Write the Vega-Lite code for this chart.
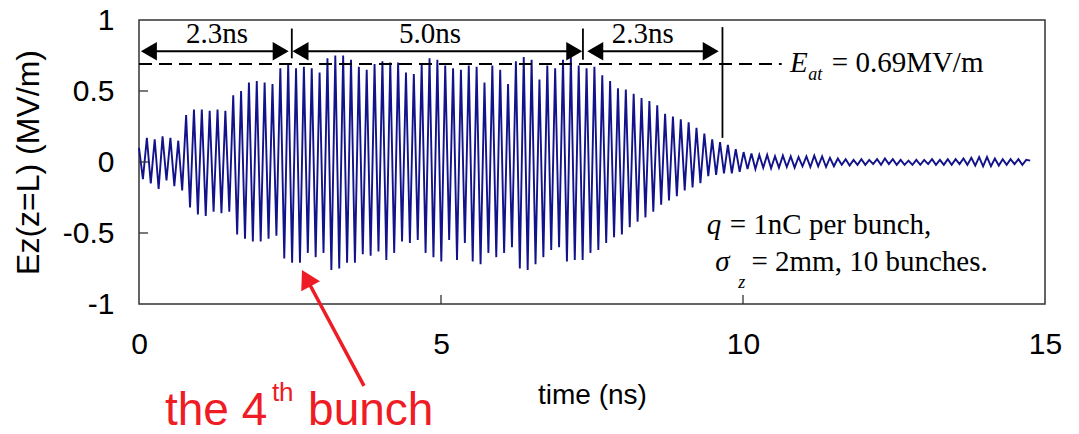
{
  "$schema": "https://vega.github.io/schema/vega-lite/v6.json",
  "width": 906,
  "height": 284,
  "autosize": {"type": "none"},
  "padding": {"left": 139, "top": 20, "right": 34, "bottom": 130},
  "background": "white",
  "config": {
    "view": {"stroke": "#333333", "strokeWidth": 1.5},
    "axis": {"domain": false, "ticks": false, "tickSize": 0, "grid": false, "labelFont": "Liberation Sans", "labelFontSize": 30, "labelColor": "#000000", "titleFont": "Liberation Sans", "titleFontSize": 28, "titleFontWeight": "normal", "titleColor": "#000000"}
  },
  "datasets": {
    "sig": [
      {"t":0,"e":0.1},{"t":0.065,"e":-0.12},{"t":0.13,"e":0.17},{"t":0.195,"e":-0.15},{"t":0.26,"e":0.16},{"t":0.325,"e":-0.19},{"t":0.39,"e":0.18},{"t":0.455,"e":-0.13},{"t":0.52,"e":0.17},{"t":0.585,"e":-0.17},{"t":0.65,"e":0.15},{"t":0.715,"e":-0.2},
      {"t":0.78,"e":0.33},{"t":0.845,"e":-0.32},{"t":0.91,"e":0.37},{"t":0.975,"e":-0.37},{"t":1.04,"e":0.37},{"t":1.105,"e":-0.38},{"t":1.17,"e":0.36},{"t":1.235,"e":-0.35},{"t":1.3,"e":0.37},{"t":1.365,"e":-0.36},{"t":1.43,"e":0.36},{"t":1.495,"e":-0.35},
      {"t":1.56,"e":0.47},{"t":1.625,"e":-0.51},{"t":1.69,"e":0.5},{"t":1.755,"e":-0.54},{"t":1.82,"e":0.56},{"t":1.885,"e":-0.56},{"t":1.95,"e":0.57},{"t":2.015,"e":-0.56},{"t":2.08,"e":0.56},{"t":2.145,"e":-0.54},{"t":2.21,"e":0.55},{"t":2.275,"e":-0.52},
      {"t":2.34,"e":0.66},{"t":2.405,"e":-0.68},{"t":2.47,"e":0.69},{"t":2.535,"e":-0.71},{"t":2.6,"e":0.66},{"t":2.665,"e":-0.71},{"t":2.73,"e":0.67},{"t":2.795,"e":-0.64},{"t":2.86,"e":0.66},{"t":2.925,"e":-0.67},{"t":2.99,"e":0.63},{"t":3.055,"e":-0.64},
      {"t":3.12,"e":0.73},{"t":3.185,"e":-0.76},{"t":3.25,"e":0.75},{"t":3.315,"e":-0.75},{"t":3.38,"e":0.75},{"t":3.445,"e":-0.71},{"t":3.51,"e":0.72},{"t":3.575,"e":-0.71},{"t":3.64,"e":0.67},{"t":3.705,"e":-0.65},{"t":3.77,"e":0.65},{"t":3.835,"e":-0.66},
      {"t":3.9,"e":0.69},{"t":3.965,"e":-0.63},{"t":4.03,"e":0.71},{"t":4.095,"e":-0.69},{"t":4.16,"e":0.7},{"t":4.225,"e":-0.64},{"t":4.29,"e":0.7},{"t":4.355,"e":-0.56},{"t":4.42,"e":0.63},{"t":4.485,"e":-0.57},{"t":4.55,"e":0.62},{"t":4.615,"e":-0.55},
      {"t":4.68,"e":0.69},{"t":4.745,"e":-0.64},{"t":4.81,"e":0.73},{"t":4.875,"e":-0.67},{"t":4.94,"e":0.72},{"t":5.005,"e":-0.7},{"t":5.07,"e":0.68},{"t":5.135,"e":-0.55},{"t":5.2,"e":0.66},{"t":5.265,"e":-0.69},{"t":5.33,"e":0.65},{"t":5.395,"e":-0.57},
      {"t":5.46,"e":0.68},{"t":5.525,"e":-0.7},{"t":5.59,"e":0.67},{"t":5.655,"e":-0.72},{"t":5.72,"e":0.56},{"t":5.785,"e":-0.64},{"t":5.85,"e":0.68},{"t":5.915,"e":-0.67},{"t":5.98,"e":0.65},{"t":6.045,"e":-0.64},{"t":6.11,"e":0.55},{"t":6.175,"e":-0.6},
      {"t":6.24,"e":0.71},{"t":6.305,"e":-0.75},{"t":6.37,"e":0.74},{"t":6.435,"e":-0.76},{"t":6.5,"e":0.72},{"t":6.565,"e":-0.72},{"t":6.63,"e":0.58},{"t":6.695,"e":-0.67},{"t":6.76,"e":0.68},{"t":6.825,"e":-0.62},{"t":6.89,"e":0.66},{"t":6.955,"e":-0.6},
      {"t":7.02,"e":0.72},{"t":7.085,"e":-0.7},{"t":7.15,"e":0.74},{"t":7.215,"e":-0.69},{"t":7.28,"e":0.68},{"t":7.345,"e":-0.69},{"t":7.41,"e":0.66},{"t":7.475,"e":-0.64},{"t":7.54,"e":0.67},{"t":7.605,"e":-0.62},{"t":7.67,"e":0.61},{"t":7.735,"e":-0.57},
      {"t":7.8,"e":0.57},{"t":7.865,"e":-0.53},{"t":7.93,"e":0.52},{"t":7.995,"e":-0.51},{"t":8.06,"e":0.51},{"t":8.125,"e":-0.46},{"t":8.19,"e":0.48},{"t":8.255,"e":-0.42},{"t":8.32,"e":0.45},{"t":8.385,"e":-0.39},{"t":8.45,"e":0.43},{"t":8.515,"e":-0.35},
      {"t":8.58,"e":0.4},{"t":8.645,"e":-0.3},{"t":8.71,"e":0.34},{"t":8.775,"e":-0.27},{"t":8.84,"e":0.32},{"t":8.905,"e":-0.24},{"t":8.97,"e":0.3},{"t":9.035,"e":-0.2},{"t":9.1,"e":0.28},{"t":9.165,"e":-0.18},{"t":9.23,"e":0.24},{"t":9.295,"e":-0.15},
      {"t":9.36,"e":0.2},{"t":9.425,"e":-0.1},{"t":9.49,"e":0.16},{"t":9.555,"e":-0.09},{"t":9.62,"e":0.14},{"t":9.685,"e":-0.08},{"t":9.75,"e":0.12},{"t":9.815,"e":-0.08},{"t":9.88,"e":0.09},{"t":9.945,"e":-0.07},{"t":10.01,"e":0.07},{"t":10.075,"e":-0.05},
      {"t":10.14,"e":0.06},{"t":10.205,"e":-0.05},{"t":10.27,"e":0.05},{"t":10.335,"e":-0.04},{"t":10.4,"e":0.05},{"t":10.465,"e":-0.045},{"t":10.53,"e":0.04},{"t":10.595,"e":-0.04},{"t":10.66,"e":0.045},{"t":10.725,"e":-0.035},{"t":10.79,"e":0.04},{"t":10.855,"e":-0.04},
      {"t":10.92,"e":0.035},{"t":10.985,"e":-0.03},{"t":11.05,"e":0.04},{"t":11.115,"e":-0.035},{"t":11.18,"e":0.045},{"t":11.245,"e":-0.03},{"t":11.31,"e":0.04},{"t":11.375,"e":-0.035},{"t":11.44,"e":0.03},{"t":11.505,"e":-0.03},{"t":11.57,"e":0.025},{"t":11.635,"e":-0.02},
      {"t":11.7,"e":0.02},{"t":11.765,"e":-0.025},{"t":11.83,"e":0.015},{"t":11.895,"e":-0.02},{"t":11.96,"e":0.02},{"t":12.025,"e":-0.02},{"t":12.09,"e":0.015},{"t":12.155,"e":-0.015},{"t":12.22,"e":0.02},{"t":12.285,"e":-0.02},{"t":12.35,"e":0.025},{"t":12.415,"e":-0.015},
      {"t":12.48,"e":0.02},{"t":12.545,"e":-0.02},{"t":12.61,"e":0.015},{"t":12.675,"e":-0.02},{"t":12.74,"e":0.01},{"t":12.805,"e":-0.02},{"t":12.87,"e":0.015},{"t":12.935,"e":-0.02},{"t":13,"e":0.015},{"t":13.065,"e":-0.015},{"t":13.13,"e":0.02},{"t":13.195,"e":-0.02},
      {"t":13.26,"e":0.015},{"t":13.325,"e":-0.02},{"t":13.39,"e":0.02},{"t":13.455,"e":-0.02},{"t":13.52,"e":0.02},{"t":13.585,"e":-0.015},{"t":13.65,"e":0.025},{"t":13.715,"e":-0.02},{"t":13.78,"e":0.03},{"t":13.845,"e":-0.025},{"t":13.91,"e":0.035},{"t":13.975,"e":-0.03},
      {"t":14.04,"e":0.035},{"t":14.105,"e":-0.03},{"t":14.17,"e":0.025},{"t":14.235,"e":-0.025},{"t":14.3,"e":0.02},{"t":14.365,"e":-0.02},{"t":14.43,"e":0.02},{"t":14.495,"e":-0.015},{"t":14.56,"e":0.02},{"t":14.625,"e":-0.02},{"t":14.69,"e":0.015},{"t":14.755,"e":0.01}
    ],
    "segs": [
      {"x":2.53,"x2":2.53,"y":0.73,"y2":0.94},
      {"x":7.35,"x2":7.35,"y":0.72,"y2":0.94},
      {"x":9.66,"x2":9.66,"y":0.17,"y2":0.95},
      {"x":0.1,"x2":2.4,"y":0.78,"y2":0.78},
      {"x":2.6,"x2":7.28,"y":0.78,"y2":0.78},
      {"x":7.5,"x2":9.53,"y":0.78,"y2":0.78}
    ],
    "ticks": [
      {"x":0,"x2":0.15,"y":0.5,"y2":0.5},
      {"x":0,"x2":0.15,"y":0,"y2":0},
      {"x":0,"x2":0.15,"y":-0.5,"y2":-0.5},
      {"x":5,"x2":5,"y":-1,"y2":-0.937},
      {"x":10,"x2":10,"y":-1,"y2":-0.937}
    ],
    "headsL": [{"x":0.164,"y":0.78},{"x":2.674,"y":0.78},{"x":7.554,"y":0.78}],
    "headsR": [{"x":2.346,"y":0.78},{"x":7.206,"y":0.78},{"x":9.466,"y":0.78}],
    "durs": [{"x":1.29,"y":0.836,"label":"2.3ns"},{"x":4.82,"y":0.836,"label":"5.0ns"},{"x":8.34,"y":0.836,"label":"2.3ns"}],
    "serifReg": [{"x":11.47,"y":0.636,"label":"= 0.69MV/m"},{"x":9.78,"y":-0.505,"label":"= 1nC per bunch,"},{"x":10.14,"y":-0.765,"label":"= 2mm, 10 bunches."}],
    "serifIt": [{"x":10.78,"y":0.636,"label":"E"},{"x":9.4,"y":-0.505,"label":"q"},{"x":9.54,"y":-0.765,"label":"σ"}],
    "serifSub": [{"x":11.08,"y":0.577,"label":"at"},{"x":9.92,"y":-0.885,"label":"z"}],
    "redLine": [{"x":2.76,"x2":3.725,"y":-0.81,"y2":-1.577}],
    "redHead": [{"x":2.77,"y":-0.818}],
    "redBig": [{"x":0.43,"y":-1.85,"label":"the 4"},{"x":2.8,"y":-1.85,"label":"bunch"}],
    "redSup": [{"x":2.2,"y":-1.68,"label":"th"}]
  },
  "layer": [
    {
      "data": {"name": "sig"},
      "mark": {"type": "line", "color": "#12128a", "strokeWidth": 1.9},
      "encoding": {
        "x": {"field": "t", "type": "quantitative", "scale": {"domain": [0, 15], "nice": false, "zero": false},
              "axis": {"values": [0, 5, 10, 15], "title": "time (ns)", "labelExpr": "'' + datum.value", "labelPadding": 25, "titlePadding": 22, "labelFlush": false, "labelOverlap": false}},
        "y": {"field": "e", "type": "quantitative", "scale": {"domain": [-1, 1], "nice": false, "zero": false},
              "axis": {"values": [-1, -0.5, 0, 0.5, 1], "title": "Ez(z=L) (MV/m)", "titleFontSize": 32, "labelExpr": "'' + datum.value", "labelPadding": 25, "titlePadding": 17, "labelFlush": false, "labelOverlap": false}}
      }
    },
    {
      "data": {"values": [{"x": 0, "x2": 10.64, "y": 0.69}]},
      "mark": {"type": "rule", "color": "#000000", "strokeWidth": 2, "strokeDash": [13, 7]},
      "encoding": {
        "x": {"field": "x", "type": "quantitative"},
        "x2": {"field": "x2"},
        "y": {"field": "y", "type": "quantitative"}
      }
    },
    {
      "data": {"name": "segs"},
      "mark": {"type": "rule", "color": "#000000", "strokeWidth": 1.8},
      "encoding": {
        "x": {"field": "x", "type": "quantitative"},
        "x2": {"field": "x2"},
        "y": {"field": "y", "type": "quantitative"},
        "y2": {"field": "y2"}
      }
    },
    {
      "data": {"name": "ticks"},
      "mark": {"type": "rule", "color": "#333333", "strokeWidth": 1.3},
      "encoding": {
        "x": {"field": "x", "type": "quantitative"},
        "x2": {"field": "x2"},
        "y": {"field": "y", "type": "quantitative"},
        "y2": {"field": "y2"}
      }
    },
    {
      "data": {"name": "headsL"},
      "mark": {"type": "point", "shape": "triangle-left", "filled": true, "color": "#000000", "size": 340, "opacity": 1},
      "encoding": {
        "x": {"field": "x", "type": "quantitative"},
        "y": {"field": "y", "type": "quantitative"}
      }
    },
    {
      "data": {"name": "headsR"},
      "mark": {"type": "point", "shape": "triangle-right", "filled": true, "color": "#000000", "size": 340, "opacity": 1},
      "encoding": {
        "x": {"field": "x", "type": "quantitative"},
        "y": {"field": "y", "type": "quantitative"}
      }
    },
    {
      "data": {"name": "durs"},
      "mark": {"type": "text", "font": "Liberation Serif", "fontSize": 29, "color": "#000000", "align": "center", "baseline": "alphabetic"},
      "encoding": {
        "x": {"field": "x", "type": "quantitative"},
        "y": {"field": "y", "type": "quantitative"},
        "text": {"field": "label"}
      }
    },
    {
      "data": {"name": "serifReg"},
      "mark": {"type": "text", "font": "Liberation Serif", "fontSize": 29, "color": "#000000", "align": "left", "baseline": "alphabetic"},
      "encoding": {
        "x": {"field": "x", "type": "quantitative"},
        "y": {"field": "y", "type": "quantitative"},
        "text": {"field": "label"}
      }
    },
    {
      "data": {"name": "serifIt"},
      "mark": {"type": "text", "font": "Liberation Serif", "fontSize": 29, "fontStyle": "italic", "color": "#000000", "align": "left", "baseline": "alphabetic"},
      "encoding": {
        "x": {"field": "x", "type": "quantitative"},
        "y": {"field": "y", "type": "quantitative"},
        "text": {"field": "label"}
      }
    },
    {
      "data": {"name": "serifSub"},
      "mark": {"type": "text", "font": "Liberation Serif", "fontSize": 18, "fontStyle": "italic", "color": "#000000", "align": "left", "baseline": "alphabetic"},
      "encoding": {
        "x": {"field": "x", "type": "quantitative"},
        "y": {"field": "y", "type": "quantitative"},
        "text": {"field": "label"}
      }
    },
    {
      "data": {"name": "redLine"},
      "mark": {"type": "rule", "color": "#ee1c24", "strokeWidth": 3.5},
      "encoding": {
        "x": {"field": "x", "type": "quantitative"},
        "x2": {"field": "x2"},
        "y": {"field": "y", "type": "quantitative"},
        "y2": {"field": "y2"}
      }
    },
    {
      "data": {"name": "redHead"},
      "mark": {"type": "point", "shape": "triangle-up", "angle": 332, "filled": true, "color": "#ee1c24", "size": 450, "opacity": 1},
      "encoding": {
        "x": {"field": "x", "type": "quantitative"},
        "y": {"field": "y", "type": "quantitative"}
      }
    },
    {
      "data": {"name": "redBig"},
      "mark": {"type": "text", "font": "Liberation Sans", "fontSize": 46, "color": "#ee1c24", "align": "left", "baseline": "alphabetic"},
      "encoding": {
        "x": {"field": "x", "type": "quantitative"},
        "y": {"field": "y", "type": "quantitative"},
        "text": {"field": "label"}
      }
    },
    {
      "data": {"name": "redSup"},
      "mark": {"type": "text", "font": "Liberation Sans", "fontSize": 26, "color": "#ee1c24", "align": "left", "baseline": "alphabetic"},
      "encoding": {
        "x": {"field": "x", "type": "quantitative"},
        "y": {"field": "y", "type": "quantitative"},
        "text": {"field": "label"}
      }
    }
  ]
}
